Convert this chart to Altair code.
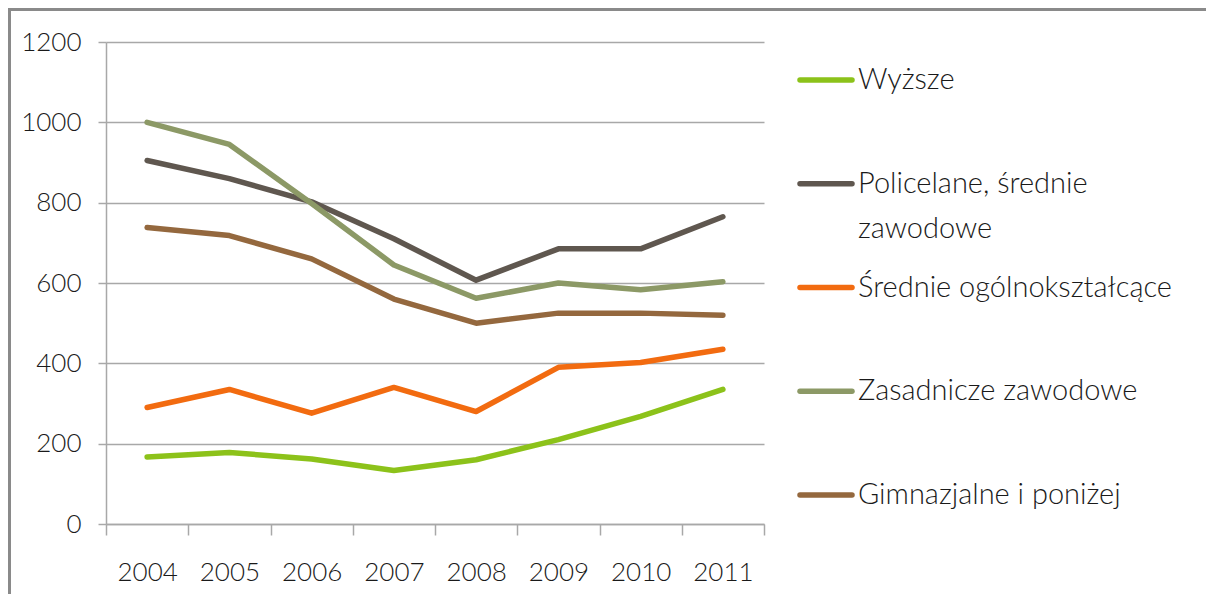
import altair as alt
import pandas as pd

years = ["2004", "2005", "2006", "2007", "2008", "2009", "2010", "2011"]
series = [
    "Wyższe",
    "Policelane, średnie zawodowe",
    "Średnie ogólnokształcące",
    "Zasadnicze zawodowe",
    "Gimnazjalne i poniżej",
]
wyzsze = [167, 178, 162, 133, 160, 210, 268, 335]
policealne = [905, 860, 802, 710, 607, 685, 685, 765]
srednie = [290, 335, 276, 340, 280, 390, 402, 435]
zasadnicze = [1000, 945, 798, 645, 562, 600, 583, 603]
gimnazjalne = [738, 718, 660, 560, 500, 525, 525, 520]
colors = ["#8CC21A", "#5F574F", "#F26B10", "#8C9966", "#94683E"]
legend_line1 = ["Wyższe", "Policelane, średnie", "Średnie ogólnokształcące",
                "Zasadnicze zawodowe", "Gimnazjalne i poniżej"]
legend_line2 = ["", "zawodowe", "", "", ""]

FONT = "Lato"

values = [wyzsze, policealne, srednie, zasadnicze, gimnazjalne]
rows = []
for s, vals in zip(series, values):
    for y, v in zip(years, vals):
        rows.append({"year": y, "value": v, "series": s})
df = pd.DataFrame(rows)

leg = pd.DataFrame({"series": series, "l1": legend_line1, "l2": legend_line2})

color = alt.Color("series:N", scale=alt.Scale(domain=series, range=colors), legend=None)

lines = alt.Chart(df).mark_line(strokeWidth=5.5, strokeCap="round", strokeJoin="round").encode(
    x=alt.X("year:O", bandPosition=0.5,
            scale=alt.Scale(type="band", paddingInner=0, paddingOuter=0),
            axis=alt.Axis(title=None, labelAngle=0, tickBand="extent", tickSize=11,
                          labelPadding=24, grid=False, domainColor="#A8A8A8",
                          tickColor="#A8A8A8", domainWidth=1.5, tickWidth=1.5,
                          labelFontSize=26)),
    y=alt.Y("value:Q", scale=alt.Scale(domain=[0, 1200], nice=False),
            axis=alt.Axis(title=None, values=[0, 200, 400, 600, 800, 1000, 1200],
                          format="d", tickSize=8, labelPadding=17, grid=True,
                          gridColor="#A8A8A8", gridWidth=1.5, domainColor="#A8A8A8",
                          tickColor="#A8A8A8", domainWidth=1.5, tickWidth=1.5,
                          labelFontSize=26)),
    color=color,
)

leg_y = alt.Y("series:N", sort=series,
              scale=alt.Scale(type="point", domain=series, range=[38, 453], padding=0),
              axis=None)

leg_rules = alt.Chart(leg).mark_rule(strokeWidth=5.5, strokeCap="round").encode(
    x=alt.value(694), x2=alt.value(746), y=leg_y, color=color
)
leg_text1 = alt.Chart(leg).mark_text(align="left", baseline="middle", fontSize=29,
                                     font=FONT, fontWeight=300, color="#1a1a1a").encode(
    x=alt.value(752), y=leg_y, text="l1:N"
)
leg_text2 = alt.Chart(leg).transform_filter("datum.l2 != ''").mark_text(
    align="left", baseline="middle", fontSize=29, font=FONT, fontWeight=300,
    color="#1a1a1a", dy=45
).encode(x=alt.value(752), y=leg_y, text="l2:N")

legend_layer = alt.layer(leg_rules, leg_text1, leg_text2)

border_top = alt.Chart(leg).mark_rule(strokeWidth=3, color="#8a8a8a").encode(
    x=alt.value(-98), x2=alt.value(1100), y=alt.value(-32.5)
)
border_left = alt.Chart(leg).mark_rule(strokeWidth=3, color="#8a8a8a").encode(
    x=alt.value(-96.5), y=alt.value(-34), y2=alt.value(560)
)

chart = alt.layer(lines, legend_layer, border_top, border_left).resolve_scale(
    y="independent"
).properties(
    width=658, height=482,
    autosize=alt.AutoSizeParams(type="none"),
    padding={"left": 98, "top": 34, "right": 442, "bottom": 70},
).configure_view(stroke=None).configure_axis(
    labelFont=FONT, labelFontWeight=300, labelColor="#1a1a1a"
)

chart.save("out.html", embed_options={"renderer": "svg", "actions": False})
